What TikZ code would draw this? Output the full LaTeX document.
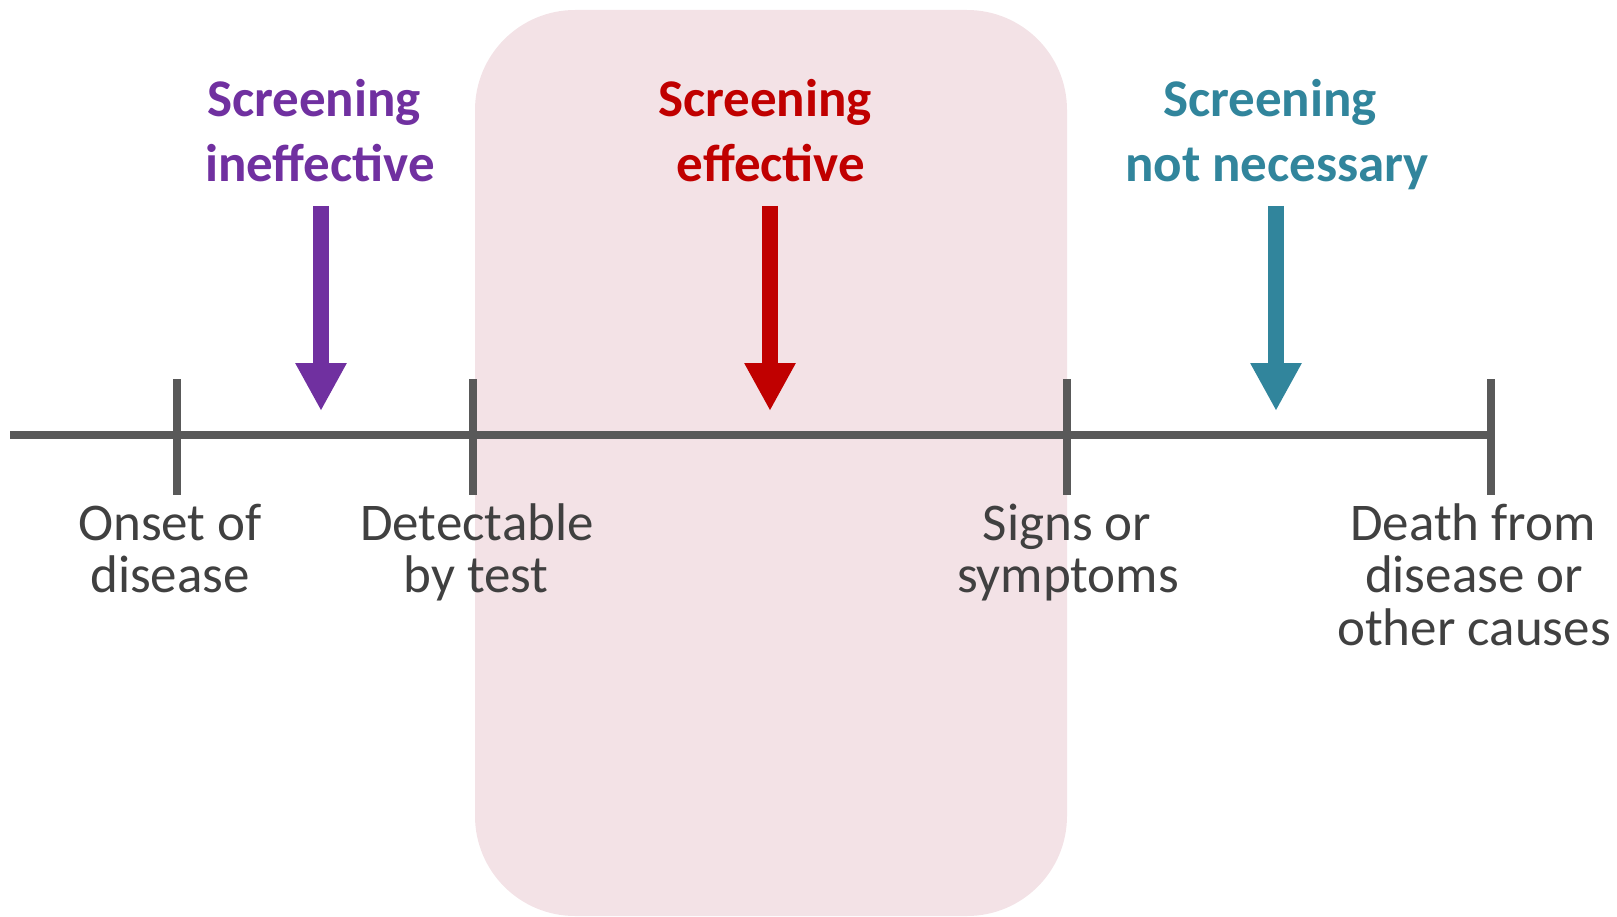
\documentclass[tikz,border=0pt]{standalone}
\usepackage{fontspec}
\setmainfont{Carlito}
\usetikzlibrary{arrows.meta}
\definecolor{boxpink}{RGB}{243,226,230}
\definecolor{axisgray}{RGB}{89,89,89}
\definecolor{labelgray}{RGB}{64,64,64}
\definecolor{cpurple}{RGB}{112,48,160}
\definecolor{cred}{RGB}{192,0,0}
\definecolor{cteal}{RGB}{49,133,156}
\tikzset{
  axisline/.style={draw=axisgray, line width=8pt},
  tickline/.style={draw=axisgray, line width=8pt},
  bigarrow/.style={line width=16pt, -{Triangle[width=48pt,length=48pt]}},
  toplabel/.style={anchor=base, inner sep=0pt, font=\fontsize{53}{64}\selectfont\bfseries},
  botlabel/.style={anchor=base, inner sep=0pt, text=labelgray, font=\fontsize{53}{53}\selectfont}
}
\begin{document}
\begin{tikzpicture}[x=1pt,y=-1pt]
\useasboundingbox (0,0) rectangle (1617,917);
% shaded region
\fill[boxpink, rounded corners=100pt] (475,10) rectangle (1067,916);
% axis
\coordinate (axL) at (10,435);
\coordinate (axR) at (1491,435);
\draw[axisline] (axL) -- (axR);
% ticks
\coordinate (t1a) at (177,379); \coordinate (t1b) at (177,495);
\coordinate (t2a) at (473,379); \coordinate (t2b) at (473,495);
\coordinate (t3a) at (1067,379); \coordinate (t3b) at (1067,495);
\coordinate (t4a) at (1491,379); \coordinate (t4b) at (1491,495);
\draw[tickline] (t1a) -- (t1b);
\draw[tickline] (t2a) -- (t2b);
\draw[tickline] (t3a) -- (t3b);
\draw[tickline] (t4a) -- (t4b);
% arrows
\coordinate (a1s) at (321,206); \coordinate (a1e) at (321,411);
\coordinate (a2s) at (770,206); \coordinate (a2e) at (770,411);
\coordinate (a3s) at (1276,206); \coordinate (a3e) at (1276,411);
\draw[bigarrow, cpurple] (a1s) -- (a1e);
\draw[bigarrow, cred] (a2s) -- (a2e);
\draw[bigarrow, cteal] (a3s) -- (a3e);
% top labels
\node[toplabel, text=cpurple] (p1) at (314,117) {Screening};
\node[toplabel, text=cpurple] (p2) at (320,182) {ineffective};
\node[toplabel, text=cred] (r1) at (765,117) {Screening};
\node[toplabel, text=cred] (r2) at (771,182) {effective};
\node[toplabel, text=cteal] (c1) at (1270,117) {Screening};
\node[toplabel, text=cteal] (c2) at (1277,182) {not necessary};
% bottom labels
\node[botlabel] (o1) at (170,540) {Onset of};
\node[botlabel] (o2) at (170,592) {disease};
\node[botlabel] (d1) at (477,540) {Detectable};
\node[botlabel] (d2) at (476,592) {by test};
\node[botlabel] (s1) at (1067,540) {Signs or};
\node[botlabel] (s2) at (1068,592) {symptoms};
\node[botlabel] (x1) at (1473,540) {Death from};
\node[botlabel] (x2) at (1474,592) {disease or};
\node[botlabel] (x3) at (1474,645) {other causes};
\end{tikzpicture}
\end{document}
